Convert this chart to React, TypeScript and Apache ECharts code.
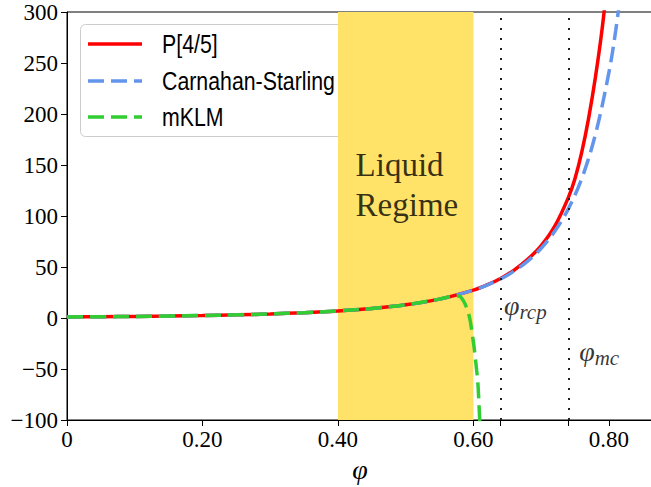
import React, { useEffect, useRef } from "react";
import * as echarts from "echarts";

// packing fraction samples and compressibility values
const phiCS = [0, 0.05, 0.1, 0.15, 0.2, 0.25, 0.3, 0.35, 0.4, 0.45, 0.5, 0.55, 0.6, 0.62, 0.64, 0.66, 0.68, 0.7, 0.72, 0.74, 0.76, 0.78, 0.8, 0.81, 0.82];
const zCS = [1, 1.23, 1.52, 1.9, 2.41, 3.07, 3.97, 5.21, 6.93, 9.39, 13.0, 18.5, 27.3, 32.2, 38.3, 46.0, 55.8, 68.4, 85.0, 107, 137, 180, 241, 282, 333];

const phiPade = [0, 0.05, 0.1, 0.15, 0.2, 0.25, 0.3, 0.35, 0.4, 0.45, 0.5, 0.55, 0.6, 0.62, 0.64, 0.66, 0.68, 0.7, 0.72, 0.74, 0.75, 0.76, 0.77, 0.78, 0.79, 0.8];
const zPade = [1, 1.23, 1.52, 1.9, 2.41, 3.07, 3.97, 5.21, 6.93, 9.39, 13.0, 18.5, 27.3, 32.4, 38.8, 47.0, 57.5, 71.0, 90.0, 118, 137, 163, 196, 236, 284, 345];

const phiKLM = [0, 0.05, 0.1, 0.15, 0.2, 0.25, 0.3, 0.35, 0.4, 0.45, 0.5, 0.55, 0.57, 0.578, 0.585, 0.591, 0.595, 0.598, 0.601, 0.603, 0.6065, 0.609, 0.6105];
const zKLM = [1, 1.23, 1.52, 1.9, 2.41, 3.07, 3.97, 5.21, 6.93, 9.39, 13.0, 18.5, 21.4, 21.5, 17, 8, -2, -15, -29, -41, -64, -97, -115];

const xLabelTicks = [0, 0.2, 0.4, 0.6, 0.8];
const xExtraTicks = [0.64, 0.74];
const liquidBand = [0.4, 0.6];
const legendNames = ["P[4/5]", "Carnahan-Starling", "mKLM"];

const pairs = (xs: number[], ys: number[]) => xs.map((x, i) => [x, ys[i]]);

const SERIF = "Liberation Serif";
const SANS = "Liberation Sans";

export default function App() {
  const ref = useRef<HTMLDivElement>(null);
  useEffect(() => {
    if (!ref.current) return;
    const chart = echarts.init(ref.current, undefined, { renderer: "svg" });
    const legendY = [44, 81, 117];
    const legendColors = ["#ff0000", "#6495ed", "#32cd32"];
    const legendDash: any[] = [null, [16, 7], [16, 7]];
    chart.setOption({
      animation: false,
      backgroundColor: "#ffffff",
      textStyle: { fontFamily: SERIF },
      grid: {
        left: 67,
        top: 12,
        right: -2,
        bottom: 67,
        outerBoundsMode: "none",
        containLabel: false,
        show: true,
        borderColor: "#000",
        borderWidth: 1,
        backgroundColor: "transparent",
      },
      xAxis: {
        type: "value",
        min: 0,
        max: 0.865,
        interval: 0.2,
        name: "φ",
        nameLocation: "middle",
        nameGap: 34,
        nameTextStyle: { fontFamily: SERIF, fontStyle: "italic", fontSize: 28, color: "#000" },
        axisLine: { onZero: false, lineStyle: { color: "#000", width: 1 } },
        axisTick: { show: true, length: 6, lineStyle: { color: "#000" }, customValues: [...xLabelTicks, ...xExtraTicks] },
        axisLabel: {
          customValues: xLabelTicks,
          fontFamily: SERIF,
          fontSize: 23,
          color: "#000",
          margin: 8,
          formatter: (v: number) => (v === 0 ? "0" : v.toFixed(2)),
        },
        splitLine: { show: false },
      },
      yAxis: {
        type: "value",
        min: -100,
        max: 300,
        interval: 50,
        axisLine: { show: true, onZero: false, lineStyle: { color: "#000", width: 1 } },
        axisTick: { show: true, length: 6, lineStyle: { color: "#000" } },
        axisLabel: {
          fontFamily: SERIF,
          fontSize: 23,
          color: "#000",
          margin: 9,
          formatter: (v: number) => (v < 0 ? "\u2212" + -v : String(v)),
        },
        splitLine: { show: false },
      },
      series: [
        {
          type: "line",
          name: "band",
          data: [],
          z: 1,
          silent: true,
          markArea: {
            silent: true,
            itemStyle: { color: "rgb(255,226,104)" },
            data: [[{ xAxis: liquidBand[0] }, { xAxis: liquidBand[1] }]],
          },
          markLine: {
            silent: true,
            symbol: "none",
            label: { show: false },
            lineStyle: { color: "#222", type: [2, 8], width: 2 },
            data: xExtraTicks.map((x) => ({ xAxis: x })),
          },
        },
        {
          type: "line",
          name: legendNames[0],
          data: pairs(phiPade, zPade),
          showSymbol: false,
          smooth: 0.35,
          z: 3,
          lineStyle: { color: legendColors[0], width: 3.5 },
        },
        {
          type: "line",
          name: legendNames[1],
          data: pairs(phiCS, zCS),
          showSymbol: false,
          smooth: 0.35,
          z: 4,
          lineStyle: { color: legendColors[1], width: 3.5, type: [16, 7] },
        },
        {
          type: "line",
          name: legendNames[2],
          data: pairs(phiKLM, zKLM),
          showSymbol: false,
          smooth: 0.35,
          z: 5,
          lineStyle: { color: legendColors[2], width: 3.5, type: [16, 7] },
        },
        {
          type: "scatter",
          name: "annotations",
          symbolSize: 0,
          z: 6,
          silent: true,
          data: [
            { value: [0.426, 130], label: { formatter: "Liquid\nRegime", fontFamily: SERIF, fontSize: 33, lineHeight: 40, color: "#000" } },
            { value: [0.645, 12], label: { formatter: "{a|φ}{b|rcp}" } },
            { value: [0.756, -33], label: { formatter: "{a|φ}{b|mc}" } },
          ],
          label: {
            show: true,
            position: "right",
            distance: 0,
            align: "left",
            verticalAlign: "middle",
            rich: {
              a: { fontFamily: SERIF, fontStyle: "italic", fontSize: 28, color: "#000" },
              b: { fontFamily: SERIF, fontStyle: "italic", fontSize: 21, color: "#000", padding: [12, 0, 0, 0] },
            },
          },
        },
      ],
      graphic: [
        {
          type: "group",
          z: 100,
          children: [
            { type: "rect", shape: { x: 80.5, y: 24.5, width: 266, height: 112, r: 5 }, style: { fill: "rgba(255,255,255,0.8)", stroke: "#cccccc", lineWidth: 1 } },
            ...legendY.map((y, i) => ({
              type: "line",
              shape: { x1: 88, y1: y, x2: 142, y2: y },
              style: { stroke: legendColors[i], lineWidth: 3.5, lineDash: legendDash[i] },
            })),
            ...legendY.map((y, i) => ({
              type: "text",
              x: 162,
              y,
              scaleX: 0.82,
              style: { text: legendNames[i], fontFamily: SANS, fontSize: 26, fill: "#000", verticalAlign: "middle", align: "left" },
            })),
          ],
        },
      ],
    });
    return () => chart.dispose();
  }, []);
  return <div ref={ref} style={{ position: "fixed", left: 0, top: 0, width: 651, height: 487, background: "#fff" }} />;
}
